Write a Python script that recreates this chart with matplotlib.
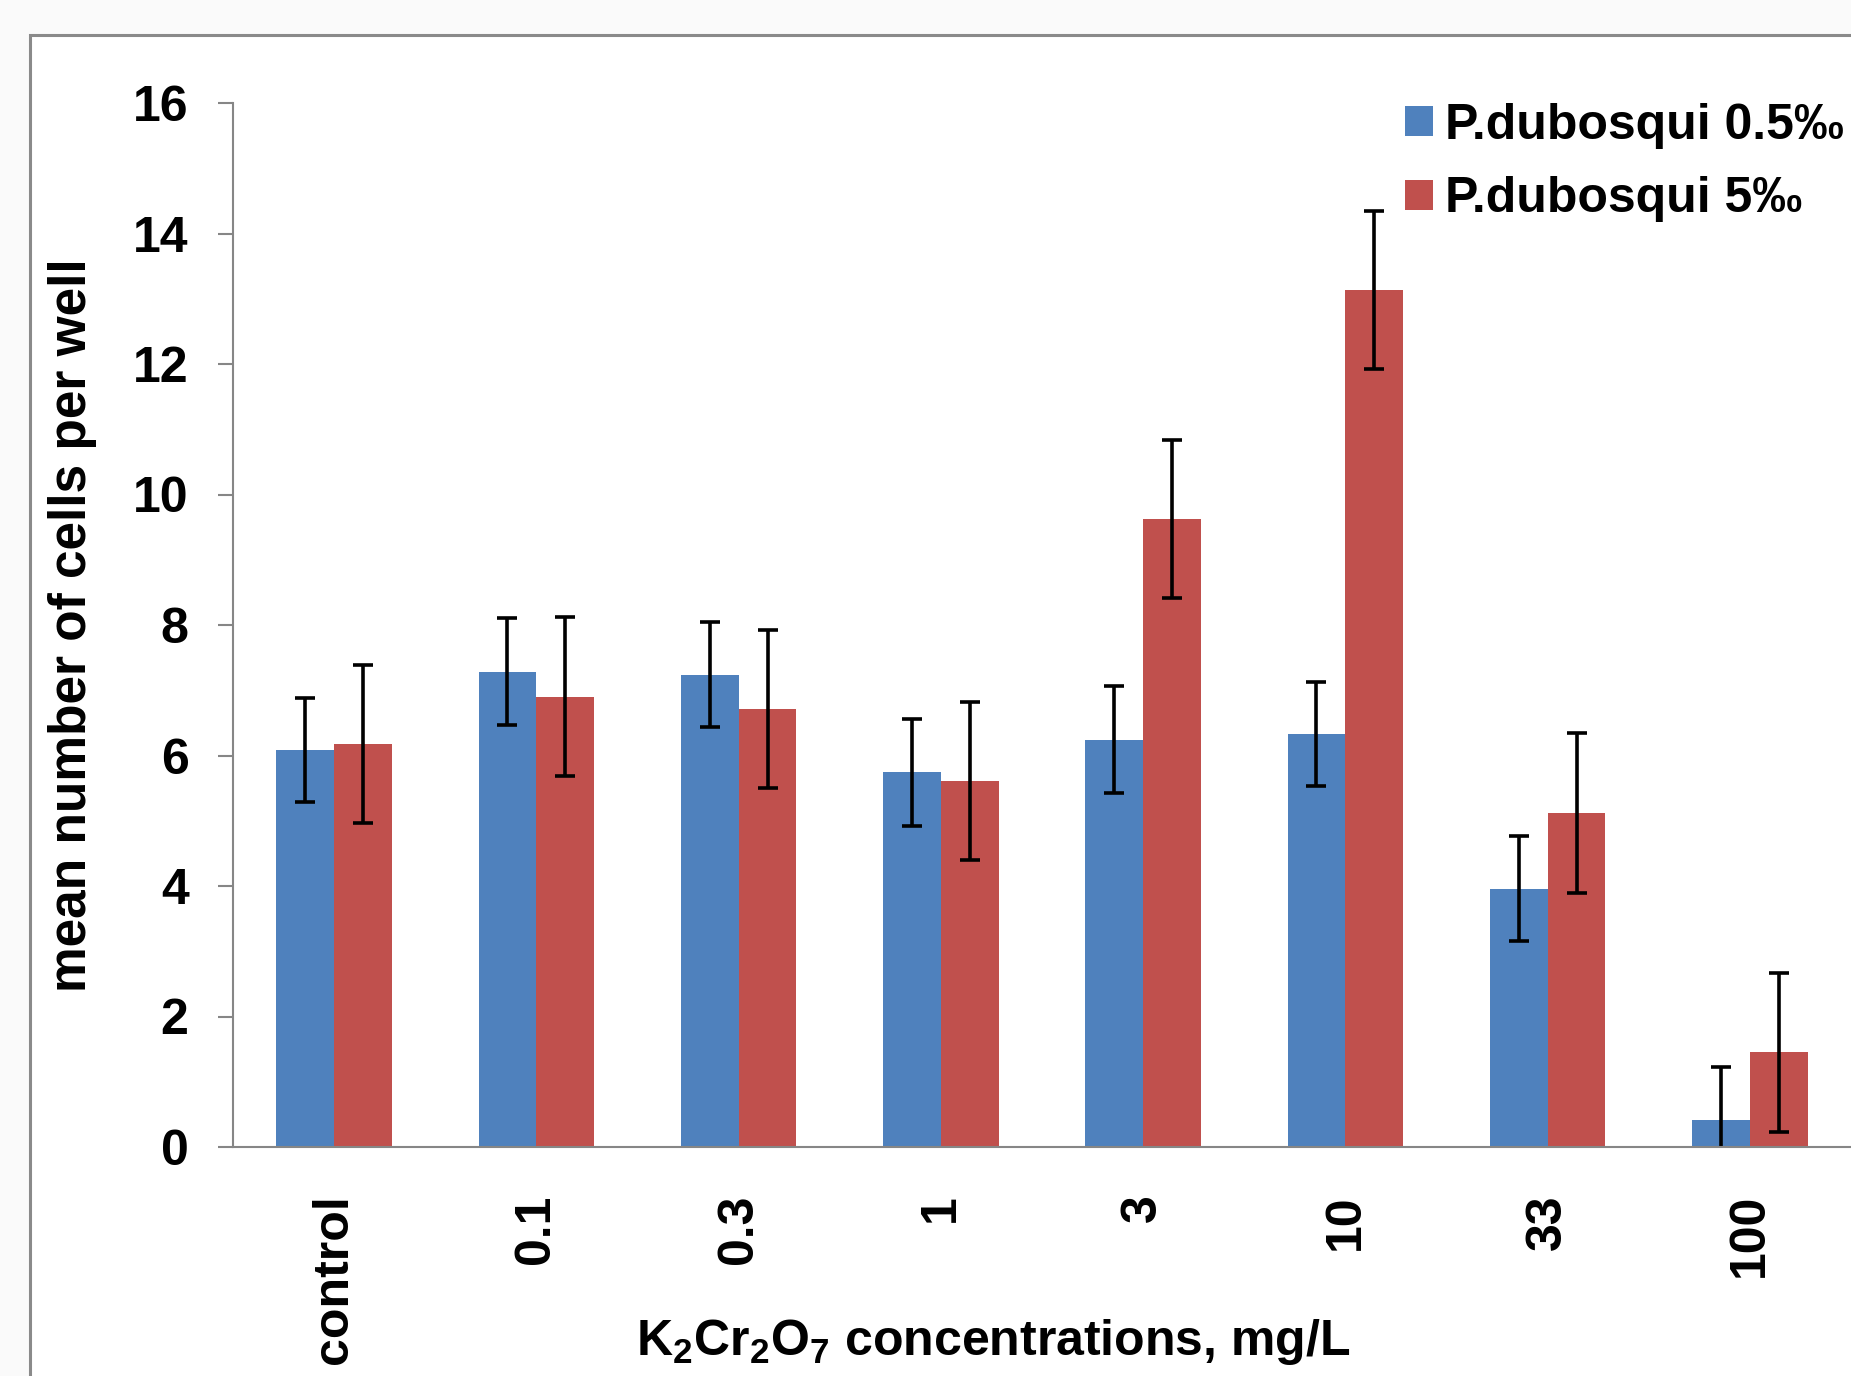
import matplotlib
matplotlib.use('Agg')
import numpy as np
import matplotlib.pyplot as plt
from matplotlib.patches import Rectangle

categories = ['control', '0.1', '0.3', '1', '3', '10', '33', '100']
low_salinity = [6.08, 7.28, 7.24, 5.74, 6.24, 6.33, 3.96, 0.42]
low_err = [0.80, 0.82, 0.81, 0.82, 0.82, 0.80, 0.80, 0.80]
high_salinity = [6.17, 6.90, 6.71, 5.61, 9.63, 13.14, 5.12, 1.45]
high_err = [1.21, 1.22, 1.21, 1.21, 1.21, 1.21, 1.22, 1.22]
series_labels = ['P.dubosqui 0.5\u2030', 'P.dubosqui 5\u2030']

plt.rcParams['font.family'] = ['Liberation Sans', 'DejaVu Sans']
plt.rcParams['font.weight'] = 'bold'
plt.rcParams['axes.labelweight'] = 'bold'
plt.rcParams['mathtext.fontset'] = 'custom'
plt.rcParams['mathtext.rm'] = 'Liberation Sans:bold'
plt.rcParams['mathtext.bf'] = 'Liberation Sans:bold'

fig = plt.figure(figsize=(18.51, 13.76), dpi=100)
fig.patch.set_facecolor('#fafafa')
# chart area frame (cropped at right and bottom in the original)
fig.patches.append(Rectangle((30 / 1851, -0.1), 1.2, (1376 - 35) / 1376 + 0.1,
                             transform=fig.transFigure, facecolor='white',
                             edgecolor='#8a8a8a', linewidth=2.2, zorder=-1))

ax = fig.add_axes([233 / 1851, 229 / 1376, 1 - 233 / 1851, (1147 - 103) / 1376])
ax.set_zorder(1)
ax.set_facecolor('white')

x = np.arange(len(categories))
w = 1 / 3.5
err_kw = dict(ecolor='black', elinewidth=2.6, capsize=7.5, capthick=2.6)
ax.bar(x - w / 2, low_salinity, w, yerr=low_err, color='#4f81bd',
       label=series_labels[0], error_kw=err_kw, zorder=2)
ax.bar(x + w / 2, high_salinity, w, yerr=high_err, color='#c0504d',
       label=series_labels[1], error_kw=err_kw, zorder=2)

ax.set_xlim(-0.5, len(categories) - 0.5)
ax.set_ylim(0, 16)
ax.set_yticks(range(0, 17, 2))
ax.set_xticks(x)
ax.set_xticklabels(categories, rotation=90)
ax.tick_params(axis='y', length=11, width=1.5, color='#868686', pad=21, labelsize=36)
ax.tick_params(axis='x', length=0, pad=34, labelsize=36)

for s in ['top', 'right']:
    ax.spines[s].set_visible(False)
for s in ['left', 'bottom']:
    ax.spines[s].set_color('#868686')
    ax.spines[s].set_linewidth(1.5)

ax.set_ylabel('mean number of cells per well', fontsize=37, fontweight='bold')
ax.yaxis.set_label_coords(-(233 - 97) / (1851 - 233), 0.5)
fig.text(993 / 1851, 34 / 1376, r'$\mathrm{K_2Cr_2O_7}$ concentrations, mg/L',
         fontsize=36, ha='center', va='center')

ax.legend(loc='upper left', bbox_to_anchor=(1405 / 1851, 1 - 103 / 1376),
          bbox_transform=fig.transFigure, frameon=False, fontsize=36,
          handlelength=0.55, handleheight=0.55, handletextpad=0.25,
          labelspacing=0.55, borderpad=0, borderaxespad=0)

fig.savefig('out.png', dpi=100, facecolor=fig.get_facecolor())
